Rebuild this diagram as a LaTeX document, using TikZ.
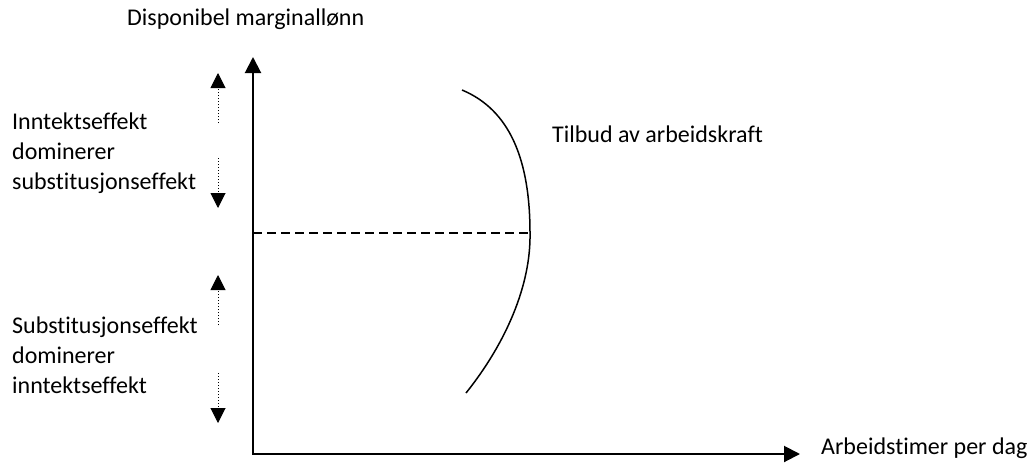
\documentclass[tikz,border=0pt]{standalone}
\usepackage{fontspec}
\setmainfont{Carlito}[Ligatures=NoCommon]
\usetikzlibrary{arrows.meta, positioning}
\tikzset{
  axis/.style={draw=black, line width=2pt, line join=miter, {Triangle[length=16pt, width=16pt]}-{Triangle[length=16pt, width=16pt]}},
  effarrow/.style={draw=black, dotted, line width=1pt, -{Triangle[length=15pt, width=15pt]}},
  lbl/.style={inner sep=0pt, anchor=base west, font=\fontsize{24}{30}\selectfont, align=left},
  supply/.style={draw=black, line width=1.5pt}
}

\begin{document}
\begin{tikzpicture}[x=1pt, y=-1pt]
  \useasboundingbox (0,0) rectangle (1027,463);

  % axes
  \coordinate (ytop) at (253,57);
  \coordinate (o) at (253,454);
  \coordinate (xend) at (800,454);
  \draw [axis] (ytop) -- (o) -- (xend);

  \node [lbl] (ylab) at (127,25) {Disponibel marginallønn};
  \node [lbl] (xlab) at (821,454) {Arbeidstimer per dag};

  % supply curve
  \coordinate (ctop) at (462,90);
  \coordinate (cmid) at (530,233);
  \coordinate (cbot) at (466,393);
  \coordinate (ylev) at (253,233);
  \draw [supply] (ctop) .. controls (510,110) and (530,160) .. (cmid)
    .. controls (531,285) and (506,343) .. (cbot);
  \draw [black, line width=1.5pt, dash pattern=on 9pt off 5pt] (ylev) -- (cmid);
  \node [lbl] (tilbud) at (552,142) {Tilbud av arbeidskraft};

  % effects
  \node [lbl] (inntekt) at (12,189) {Inntektseffekt\\dominerer\\substitusjonseffekt};
  \node [lbl] (subst) at (12,393) {Substitusjonseffekt\\dominerer\\inntektseffekt};

  \coordinate (a1) at (218,123);
  \coordinate (a1t) at (218,73);
  \coordinate (a2) at (218,158);
  \coordinate (a2t) at (218,208);
  \coordinate (b1) at (218,325);
  \coordinate (b1t) at (218,275);
  \coordinate (b2) at (218,373);
  \coordinate (b2t) at (218,423);
  \draw [effarrow] (a1) -- (a1t);
  \draw [effarrow] (a2) -- (a2t);
  \draw [effarrow] (b1) -- (b1t);
  \draw [effarrow] (b2) -- (b2t);
\end{tikzpicture}
\end{document}
